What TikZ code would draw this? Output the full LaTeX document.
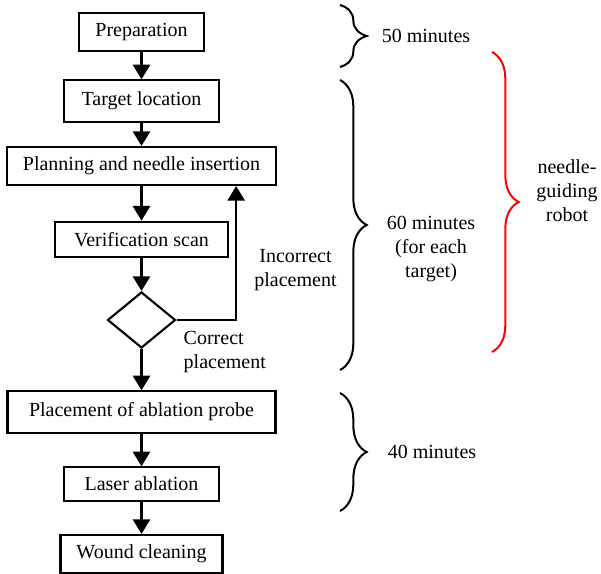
\documentclass[tikz,border=0pt]{standalone}
\usepackage{fontspec}
\setmainfont{Liberation Serif}
\newfontfamily\timesfont{Liberation Serif}
\usetikzlibrary{positioning, arrows.meta, shapes.geometric, decorations.pathreplacing}

\begin{document}
\begin{tikzpicture}[x=0.75pt, y=-0.75pt, on grid, font=\timesfont\fontsize{15}{18}\selectfont,
	box/.style={draw, line width=1.6pt, inner xsep=12pt, minimum height=28.5pt},
	flow/.style={-{Triangle[length=11pt, width=13pt]}, line width=1.6pt},
	span/.style={decorate, decoration={brace, amplitude=20pt}, line width=1.5pt}]
	\useasboundingbox (0,0) rectangle (601,574);
	% flow chart
	\node[box] (prep) at (141.5,32) {Preparation};
	\node[box, minimum width=116pt, minimum height=31pt, below=51.75pt of prep] (target) {Target location};
	\node[box, minimum width=202pt, below=48.75pt of target] (plan) {Planning and needle insertion};
	\node[box, minimum width=130pt, minimum height=26.5pt, below=55pt of plan] (verif) {Verification scan};
	\node[draw, diamond, line width=1.6pt, inner sep=0pt, minimum width=51pt, minimum height=42pt, below=60.5pt of verif] (dec) {};
	\node[box, minimum width=201pt, minimum height=31pt, below=69pt of dec] (probe) {Placement of ablation probe};
	\node[box, minimum width=116pt, minimum height=25pt, below=54pt of probe] (laser) {Laser ablation};
	\node[box, minimum width=116pt, below=52.5pt of laser] (wound) {Wound cleaning};
	\draw[flow] (prep) -- (target);
	\draw[flow] (target) -- (plan);
	\draw[flow] (plan) -- (verif);
	\draw[flow] (verif) -- (dec);
	\draw[flow] (dec) -- (probe);
	\draw[flow] (probe) -- (laser);
	\draw[flow] (laser) -- (wound);
	\draw[flow] (dec.east) -| ([xshift=71pt]plan.south);
	\node[align=center] (wrong) at (295.5,270) {Incorrect\\placement};
	\node[align=left, anchor=west] (right) at (179,352) {Correct\\placement};
	% durations
	\coordinate (s1a) at (340,5);
	\coordinate (s1b) at (340,67);
	\coordinate (s2a) at (340,80);
	\coordinate (s2b) at (340,370);
	\coordinate (s3a) at (340,393);
	\coordinate (s3b) at (340,511);
	\coordinate (s4a) at (492,52);
	\coordinate (s4b) at (492,352);
	\draw[span] (s1a) -- (s1b);
	\draw[span] (s2a) -- (s2b);
	\draw[span] (s3a) -- (s3b);
	\draw[span, red] (s4a) -- (s4b);
	\node (t50) at (426,36) {50 minutes};
	\node[align=center] (t60) at (431,249) {60 minutes\\(for each\\target)};
	\node (t40) at (432,452) {40 minutes};
	\node[align=center] (robot) at (567,191) {needle-\\guiding\\robot};
\end{tikzpicture}
\end{document}
